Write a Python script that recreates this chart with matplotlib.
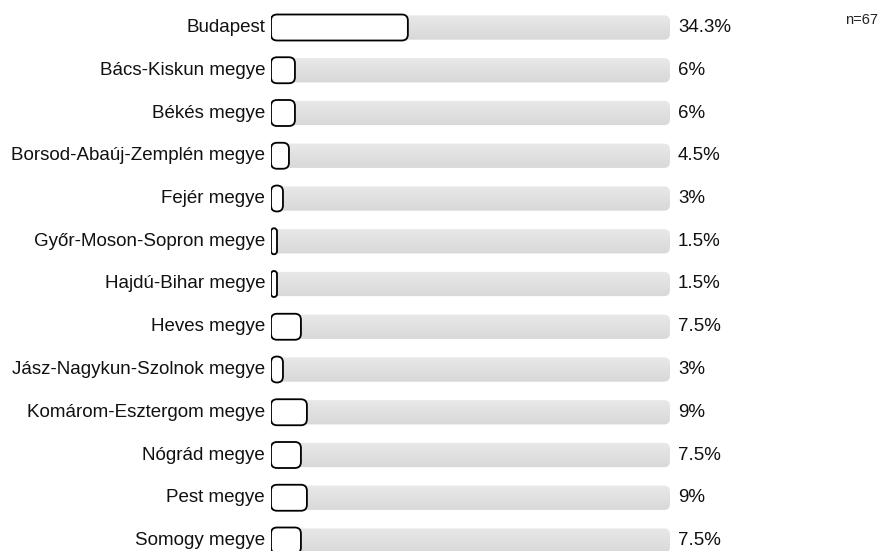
import matplotlib
matplotlib.use("Agg")
import matplotlib.pyplot as plt
import numpy as np
from matplotlib.patches import FancyBboxPatch
from matplotlib.colors import LinearSegmentedColormap

plt.rcParams['font.family'] = ['Liberation Sans', 'DejaVu Sans']

labels = ["Budapest", "Bács-Kiskun megye", "Békés megye",
          "Borsod-Abaúj-Zemplén megye", "Fejér megye",
          "Győr-Moson-Sopron megye", "Hajdú-Bihar megye", "Heves megye",
          "Jász-Nagykun-Szolnok megye", "Komárom-Esztergom megye",
          "Nógrád megye", "Pest megye", "Somogy megye"]
values = [34.3, 6, 6, 4.5, 3, 1.5, 1.5, 7.5, 3, 9, 7.5, 9, 7.5]
value_text = ["34.3%", "6%", "6%", "4.5%", "3%", "1.5%", "1.5%", "7.5%",
              "3%", "9%", "7.5%", "9%", "7.5%"]
n_text = "n=67"

W, H = 882, 551
fig = plt.figure(figsize=(W / 100, H / 100), dpi=100)
ax = fig.add_axes([271 / W, 0, 399 / W, 1])
ax.set_xlim(0, 100)
row_px = 42.75
first_px = 27.5
ax.set_ylim((H - first_px) / row_px, -first_px / row_px)
ax.axis('off')

px_x = 399 / 100.0      # pixels per x unit
px_y = row_px           # pixels per y unit
radius_px = 6.0
bar_h = 26 / row_px

grad = np.linspace(0, 1, 50).reshape(-1, 1)
cmap = LinearSegmentedColormap.from_list('g', ['#e9e9e9', '#d8d8d8'])

for i, (lab, v, t) in enumerate(zip(labels, values, value_text)):
    # gray track
    r = radius_px / px_x
    track = FancyBboxPatch((0, i - bar_h / 2 + 0.02), 100, bar_h - 0.04,
                           boxstyle="round,pad=0,rounding_size=%f" % r,
                           mutation_aspect=px_x / px_y,
                           facecolor='none', edgecolor='none')
    ax.add_patch(track)
    im = ax.imshow(grad, cmap=cmap, aspect='auto',
                   extent=(0, 100, i + bar_h / 2, i - bar_h / 2), zorder=1)
    im.set_clip_path(track)

    # value bar
    r2 = min(radius_px, v * px_x / 2) / px_x
    bar = FancyBboxPatch((0, i - bar_h / 2), v, bar_h,
                         boxstyle="round,pad=0,rounding_size=%f" % r2,
                         mutation_aspect=px_x / px_y,
                         facecolor='white', edgecolor='black',
                         linewidth=1.3, zorder=3)
    ax.add_patch(bar)

    ax.text(-1.5, i, lab, ha='right', va='center', fontsize=13.5,
            color='#111111', clip_on=False)
    ax.text(102.0, i, t, ha='left', va='center', fontsize=13.5,
            color='#111111', clip_on=False)

fig.text(845 / W, 1 - 20 / H, n_text, ha='left', va='center',
         fontsize=10.5, color='#222222')

fig.savefig("out.png", dpi=100)
